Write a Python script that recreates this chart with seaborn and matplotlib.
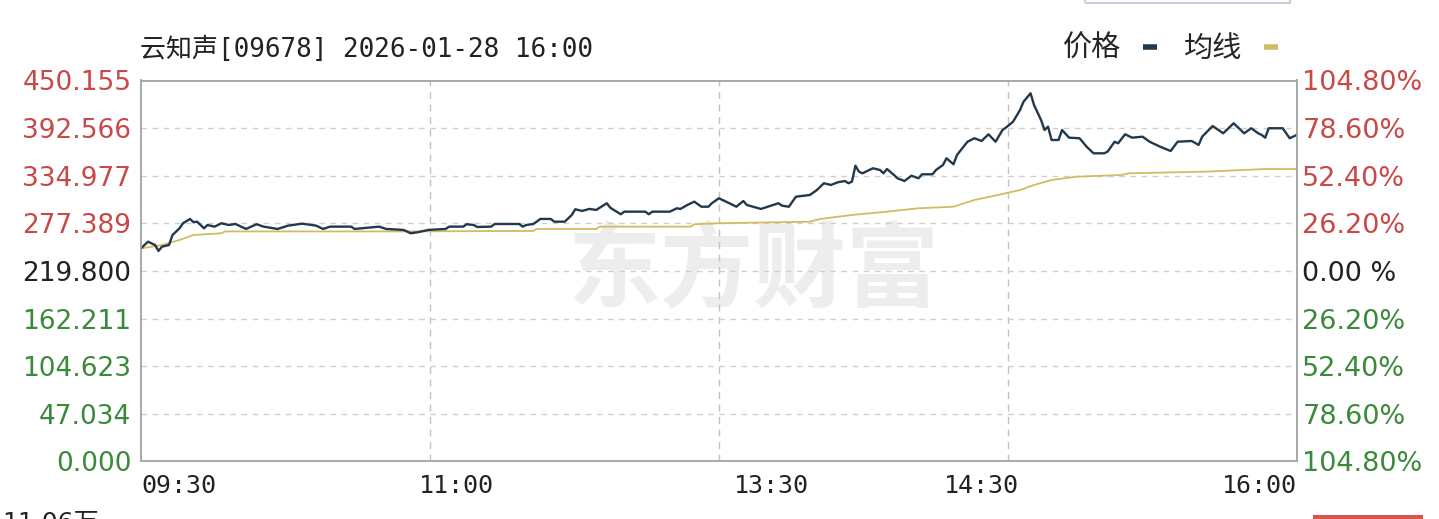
import matplotlib
matplotlib.use("Agg")
import matplotlib.pyplot as plt
from matplotlib.lines import Line2D
from matplotlib.patches import Rectangle
import pandas as pd
import seaborn as sns

# ---------------- data ----------------
title_text = "云知声[09678] 2026-01-28 16:00"
legend_labels = ["价格", "均线"]
watermark_text = "东方财富"
volume_text = "11.06万"

y_tick_values = [450.155, 392.566, 334.977, 277.389, 219.800, 162.211, 104.623, 47.034, -10.555]
y_tick_labels = ["450.155", "392.566", "334.977", "277.389", "219.800",
                 "162.211", "104.623", "47.034", "0.000"]
pct_tick_labels = ["104.80%", "78.60%", "52.40%", "26.20%", "0.00 %",
                   "26.20%", "52.40%", "78.60%", "104.80%"]
tick_sides = ["up", "up", "up", "up", "flat", "down", "down", "down", "down"]

x_tick_minutes = [0, 90, 180, 240, 330]
x_tick_labels = ["09:30", "11:00", "13:30", "14:30", "16:00"]
grid_minutes = [82.5, 165, 247.5]

# trading minutes since 09:30 (lunch break removed)
price_minutes = [0, 2, 4, 5, 6, 8, 9, 11, 12, 14,
                 15, 16, 18, 19, 21, 23, 25, 27, 30, 33,
                 35, 39, 42, 46, 50, 52, 54, 60, 61, 68,
                 70, 75, 77, 79, 82, 87, 88, 92, 93, 95,
                 96, 100, 101, 108, 109, 110, 112, 113, 114, 117,
                 118, 121, 123, 124, 126, 128, 130, 131, 133, 134,
                 135, 137, 138, 144, 145, 146, 151, 152, 153, 154,
                 156, 158, 160, 162, 163, 165, 166, 168, 170, 172,
                 173, 177, 179, 182, 183, 185, 187, 191, 193, 195,
                 197, 199, 201, 202, 203, 204, 205, 206, 209, 211,
                 212, 213, 215, 216, 218, 220, 222, 223, 226, 227,
                 229, 230, 232, 233, 236, 238, 240, 242, 244, 246,
                 247, 249, 251, 252, 254, 255, 257, 258, 259, 260,
                 262, 263, 265, 268, 270, 272, 275, 276, 278, 279,
                 281, 283, 286, 288, 291, 294, 296, 300, 302, 303,
                 306, 309, 312, 315, 317, 319, 320, 321, 322, 326,
                 328, 330]
price_values = [247.2, 255.2, 251.2, 244.0, 249.2, 251.2, 263.3, 271.4, 277.5, 282.7,
                278.7, 279.4, 271.4, 275.4, 273.4, 277.5, 275.4, 276.6, 270.6, 276.3,
                273.4, 270.6, 274.6, 277.0, 274.6, 270.6, 273.4, 273.4, 270.6, 273.4,
                270.6, 269.4, 265.4, 266.6, 269.4, 270.6, 273.4, 273.4, 276.3, 275.4,
                273.0, 273.4, 276.6, 276.6, 273.4, 275.4, 276.6, 279.4, 282.7, 282.7,
                279.4, 279.4, 287.5, 294.4, 292.4, 294.8, 293.6, 296.3, 301.7, 296.3,
                293.6, 288.4, 291.5, 291.5, 288.4, 291.5, 291.5, 293.6, 295.6, 294.8,
                299.6, 303.6, 297.5, 297.5, 301.7, 307.7, 305.7, 301.7, 297.5, 304.4,
                299.6, 294.8, 297.5, 301.7, 298.8, 297.5, 309.6, 311.7, 317.7, 325.9,
                323.8, 327.1, 328.6, 325.9, 327.8, 347.1, 339.9, 337.9, 344.0, 341.9,
                337.9, 343.1, 335.9, 331.9, 328.6, 335.0, 331.9, 336.7, 336.7, 341.9,
                348.0, 356.1, 348.8, 360.1, 376.1, 380.3, 377.0, 385.1, 376.1, 390.3,
                393.3, 400.3, 414.5, 424.5, 434.7, 420.5, 402.4, 390.3, 394.3, 378.2,
                378.2, 390.3, 381.0, 380.3, 370.1, 362.1, 362.1, 364.1, 376.1, 374.2,
                385.1, 381.0, 382.2, 376.1, 370.1, 364.9, 376.1, 377.0, 372.2, 382.2,
                395.1, 386.3, 398.4, 386.3, 392.4, 386.3, 384.3, 381.0, 392.4, 392.4,
                380.3, 384.3]

avg_minutes = [0, 6, 11, 15, 23, 24, 74, 112, 113, 130,
               131, 157, 158, 165, 191, 194, 203, 213, 222, 232,
               238, 246, 251, 255, 260, 267, 280, 282, 304, 321,
               330]
avg_values = [247.0, 251.2, 257.3, 263.3, 265.4, 267.6, 267.6, 268.2, 270.6, 270.6,
              273.4, 273.4, 276.3, 277.5, 279.4, 282.7, 287.5, 291.5, 295.6, 297.5,
              305.7, 312.9, 317.7, 323.8, 329.8, 333.8, 335.9, 337.9, 339.9, 343.1,
              343.1]

# ---------------- style ----------------
PRICE_COLOR = "#22384c"
AVG_COLOR = "#d2bb62"
UP_COLOR = "#c94848"
DOWN_COLOR = "#3b8a3b"
FLAT_COLOR = "#222222"
side_color = {"up": UP_COLOR, "down": DOWN_COLOR, "flat": FLAT_COLOR}

sns.set_style("white")
plt.rcParams["font.family"] = ["DejaVu Sans", "Noto Sans CJK SC"]

W, H = 1439, 519
fig = plt.figure(figsize=(W / 100, H / 100), dpi=100)
left_px, right_px, top_px, bottom_px = 141, 1296.7, 80.5, 461.4
ax = fig.add_axes([left_px / W, 1 - bottom_px / H,
                   (right_px - left_px) / W, (bottom_px - top_px) / H])

price_df = pd.DataFrame({"minute": price_minutes, "price": price_values})
avg_df = pd.DataFrame({"minute": avg_minutes, "avg": avg_values})

ax.text(0.530, 0.495, watermark_text, transform=ax.transAxes, fontsize=67,
        fontweight="bold", family="Noto Sans CJK SC", color="#ededed",
        ha="center", va="center", zorder=0)

sns.lineplot(data=avg_df, x="minute", y="avg", ax=ax, color=AVG_COLOR,
             linewidth=1.3, estimator=None, sort=False, zorder=3)
sns.lineplot(data=price_df, x="minute", y="price", ax=ax, color=PRICE_COLOR,
             linewidth=1.7, estimator=None, sort=False, zorder=4)

ax.set_xlim(0, 330)
ax.set_ylim(y_tick_values[-1], y_tick_values[0])
ax.set_xlabel("")
ax.set_ylabel("")

ax.set_yticks(y_tick_values)
ax.set_yticklabels(y_tick_labels, fontsize=19)
for lab, side in zip(ax.get_yticklabels(), tick_sides):
    lab.set_color(side_color[side])

ax.set_xticks(x_tick_minutes)
ax.set_xticklabels(x_tick_labels, fontsize=18, family="DejaVu Sans Mono", color="#222222")
xl = ax.get_xticklabels()
xl[0].set_ha("left")
xl[-1].set_ha("right")
ax.set_xticks(grid_minutes, minor=True)

ax.tick_params(axis="both", which="both", length=0)
ax.tick_params(axis="y", pad=7)
ax.tick_params(axis="x", pad=9)

ax.grid(False)
ax.yaxis.grid(True, which="major", linestyle=(0, (4, 4)), color="#cfcfcf", linewidth=1)
ax.xaxis.grid(True, which="minor", linestyle=(0, (5, 4)), color="#c2c2c2", linewidth=1)
for s in ax.spines.values():
    s.set_visible(True)
    s.set_color("#a8a8a8")
    s.set_linewidth(1.2)

ax2 = ax.twinx()
ax2.set_ylim(y_tick_values[-1], y_tick_values[0])
ax2.set_yticks(y_tick_values)
ax2.set_yticklabels(pct_tick_labels, fontsize=19.5)
for lab, side in zip(ax2.get_yticklabels(), tick_sides):
    lab.set_color(side_color[side])
ax2.tick_params(axis="y", length=0, pad=4)
ax2.grid(False)
for s in ax2.spines.values():
    s.set_color("#a8a8a8")
    s.set_linewidth(1.2)

fig.text(140 / W, 1 - 50 / H, title_text, fontsize=18.7,
         family=["DejaVu Sans Mono", "Noto Sans CJK SC"], color="#222222",
         ha="left", va="center")

handles = [Line2D([0], [0], color=PRICE_COLOR, lw=4, solid_capstyle="butt"),
           Line2D([0], [0], color=AVG_COLOR, lw=4, solid_capstyle="butt")]
fig.legend(handles, legend_labels, loc="center right",
           bbox_to_anchor=(1293 / W, 1 - 49 / H), ncol=2, frameon=False,
           markerfirst=False, handlelength=0.5, handletextpad=0.75,
           columnspacing=0.9, borderpad=0,
           prop={"family": "Noto Sans CJK SC", "size": 21})

# cropped neighbouring widgets at the image edges
fig.add_artist(Rectangle((1085 / W, 1 - 3 / H), 205 / W, 0.05,
                         transform=fig.transFigure, fill=False,
                         edgecolor="#c5d0dc", linewidth=1.5))
fig.text(2 / W, 1 - 511 / H, volume_text, fontsize=18, color="#222222",
         ha="left", va="top")
fig.add_artist(Rectangle((1313 / W, 0), 110 / W, 4 / H,
                         transform=fig.transFigure, facecolor="#d9534f",
                         edgecolor="none"))

fig.savefig("out.png", dpi=100, facecolor="white")
